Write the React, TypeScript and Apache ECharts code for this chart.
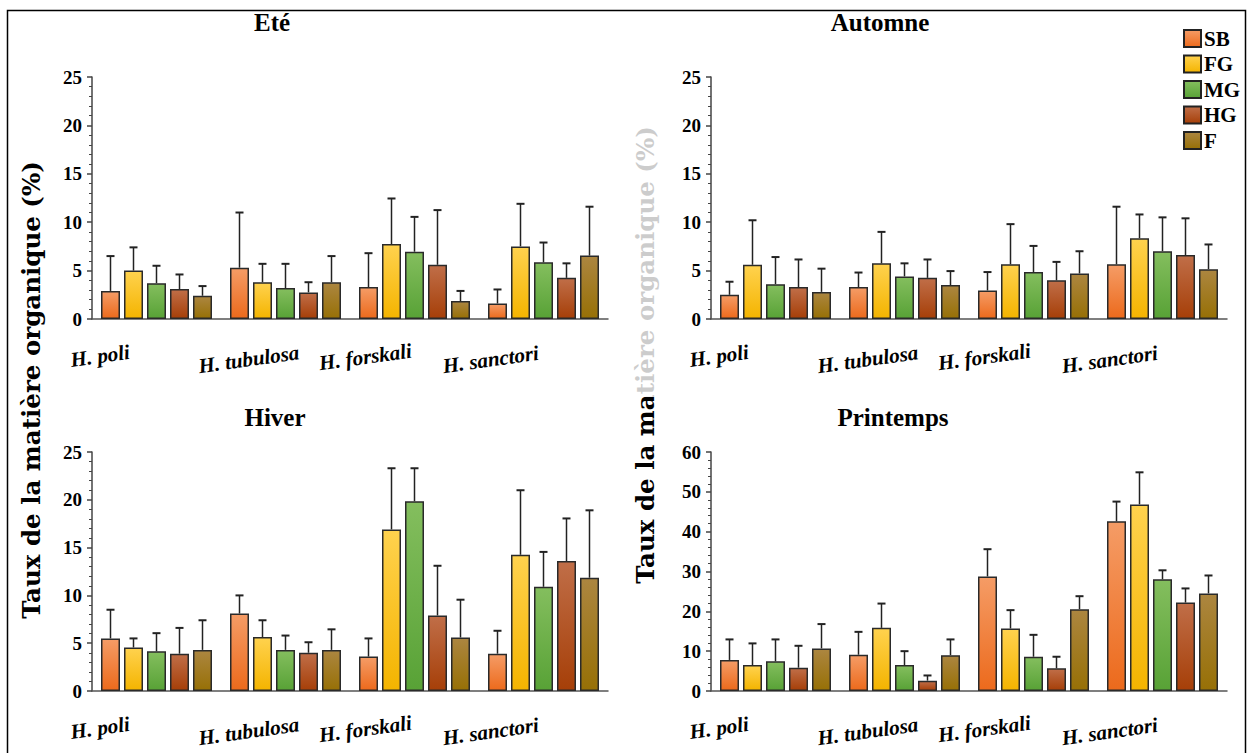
import React, { useEffect, useRef } from "react";
import * as echarts from "echarts";

const categories = ["H. poli", "H. tubulosa", "H. forskali", "H. sanctori"];
const seriesNames = ["SB", "FG", "MG", "HG", "F"];
const seasonTitles = ["Eté", "Automne", "Hiver", "Printemps"];
const yTitle = "Taux de la matière organique (%)";

// means[series][category]
const eteMeans = [
  [2.9, 5.3, 3.3, 1.6],
  [5.0, 3.8, 7.75, 7.5],
  [3.7, 3.2, 6.95, 5.85],
  [3.1, 2.75, 5.6, 4.25],
  [2.4, 3.8, 1.85, 6.55],
];
const eteSd = [
  [3.6, 5.7, 3.5, 1.45],
  [2.4, 1.9, 4.7, 4.4],
  [1.8, 2.5, 3.6, 2.05],
  [1.5, 1.05, 5.65, 1.5],
  [1.0, 2.7, 1.05, 5.05],
];
const automneMeans = [
  [2.5, 3.3, 2.95, 5.65],
  [5.6, 5.75, 5.65, 8.35],
  [3.6, 4.4, 4.85, 7.0],
  [3.3, 4.25, 4.0, 6.6],
  [2.8, 3.5, 4.7, 5.15],
];
const automneSd = [
  [1.35, 1.5, 1.9, 5.95],
  [4.6, 3.25, 4.15, 2.45],
  [2.8, 1.35, 2.7, 3.5],
  [2.85, 1.9, 1.9, 3.8],
  [2.4, 1.45, 2.3, 2.55],
];
const hiverMeans = [
  [5.5, 8.1, 3.6, 3.9],
  [4.55, 5.65, 16.9, 14.25],
  [4.15, 4.3, 19.85, 10.9],
  [3.9, 4.0, 7.9, 13.6],
  [4.3, 4.3, 5.6, 11.85],
];
const hiverSd = [
  [3.0, 1.9, 1.9, 2.4],
  [0.95, 1.75, 6.4, 6.75],
  [1.9, 1.5, 3.45, 3.65],
  [2.7, 1.1, 5.2, 4.45],
  [3.1, 2.15, 3.95, 7.05],
];
const printempsMeans = [
  [7.8, 9.1, 28.75, 42.6],
  [6.5, 15.85, 15.7, 46.85],
  [7.45, 6.5, 8.6, 28.05],
  [5.85, 2.6, 5.7, 22.2],
  [10.7, 9.0, 20.55, 24.5],
];
const printempsSd = [
  [5.15, 5.75, 6.85, 4.95],
  [5.45, 6.1, 4.6, 8.05],
  [5.5, 3.5, 5.5, 2.25],
  [5.5, 1.3, 2.9, 3.55],
  [6.1, 3.95, 3.25, 4.5],
];
const yMax = [25, 25, 25, 60];
const yInterval = [5, 5, 5, 10];

const FONT = "Liberation Serif, Times New Roman, serif";
const FONT_YT = "DejaVu Serif, serif";
const colorStops = [
  ["#F59C66", "#EC6A1C"],
  ["#FFD24E", "#F4B400"],
  ["#84BE5E", "#58A236"],
  ["#C06E48", "#A63F08"],
  ["#AC8640", "#977006"],
];
const BAR_W = 19;
const BAR_GAP = 4;

const grids = [
  { left: 92, top: 77, width: 516, height: 242 },
  { left: 711, top: 77, width: 516, height: 242 },
  { left: 92, top: 452, width: 516, height: 239 },
  { left: 711, top: 452, width: 516, height: 239 },
];
const titlePos = [
  [272, 22],
  [880, 22],
  [275, 417],
  [893, 417],
];
// per-category label padding [top, right, bottom, left] to mimic the staggered, shifted labels
const labelPad = [
  [0, 114, 0, 0],
  [12, 76, 0, 0],
  [4, 100, 0, 0],
  [8, 108, 0, 0],
];

export default function App() {
  const ref = useRef<HTMLDivElement>(null);
  useEffect(() => {
    if (!ref.current) return;
    const chart = echarts.init(ref.current, null, { renderer: "svg" });
    const allMeans = [eteMeans, automneMeans, hiverMeans, printempsMeans];
    const allSd = [eteSd, automneSd, hiverSd, printempsSd];

    const rich: any = {};
    labelPad.forEach((p, i) => {
      rich["l" + i] = {
        fontFamily: FONT,
        fontStyle: "italic",
        fontWeight: "bold",
        fontSize: 21,
        color: "#000",
        padding: p,
      };
    });

    const xAxis: any[] = [];
    const yAxis: any[] = [];
    const series: any[] = [];
    grids.forEach((g, gi) => {
      xAxis.push({
        type: "category",
        gridIndex: gi,
        data: categories,
        axisLine: { show: true, lineStyle: { color: "#555", width: 1.5 } },
        axisTick: { show: false },
        axisLabel: {
          interval: 0,
          rotate: 8,
          margin: 29,
          align: "center",
          verticalAlign: "middle",
          fontFamily: FONT,
          formatter: (v: string, idx: number) => `{l${idx}|${v}}`,
          rich,
        },
      });
      yAxis.push({
        type: "value",
        gridIndex: gi,
        min: 0,
        max: yMax[gi],
        interval: yInterval[gi],
        axisLine: { show: true, lineStyle: { color: "#444", width: 1.5 } },
        axisTick: { show: true, length: 5, lineStyle: { color: "#444", width: 1.5 } },
        minorTick: { show: true, splitNumber: 5, length: 3, lineStyle: { color: "#444", width: 1 } },
        splitLine: { show: false },
        axisLabel: {
          margin: 10,
          fontFamily: FONT,
          fontWeight: "bold",
          fontSize: 19,
          color: "#000",
        },
      });
      const means = allMeans[gi];
      const sds = allSd[gi];
      seriesNames.forEach((name, si) => {
        series.push({
          type: "bar",
          name,
          xAxisIndex: gi,
          yAxisIndex: gi,
          barWidth: BAR_W,
          barGap: (BAR_GAP / BAR_W) * 100 + "%",
          data: means[si],
          itemStyle: {
            color: new echarts.graphic.LinearGradient(0, 0, 0, 1, [
              { offset: 0, color: colorStops[si][0] },
              { offset: 1, color: colorStops[si][1] },
            ]),
            borderColor: "#2a2a2a",
            borderWidth: 1.5,
          },
        });
      });
      const errData: any[] = [];
      seriesNames.forEach((_, si) => {
        categories.forEach((_, ci) => {
          errData.push([ci, means[si][ci], sds[si][ci], si]);
        });
      });
      series.push({
        type: "custom",
        xAxisIndex: gi,
        yAxisIndex: gi,
        z: 5,
        data: errData,
        renderItem: (params: any, api: any) => {
          const ci = api.value(0);
          const m = api.value(1);
          const sd = api.value(2);
          const si = api.value(3);
          const base = api.coord([ci, m]);
          const top = api.coord([ci, m + sd]);
          const x = base[0] + (si - 2) * (BAR_W + BAR_GAP);
          return {
            type: "group",
            children: [
              {
                type: "line",
                shape: { x1: x, y1: base[1], x2: x, y2: top[1] },
                style: { stroke: "#222", lineWidth: 1.5 },
              },
              {
                type: "line",
                shape: { x1: x - 4, y1: top[1], x2: x + 4, y2: top[1] },
                style: { stroke: "#222", lineWidth: 2 },
              },
            ],
          };
        },
      });
    });

    const titleStyle = {
      text: yTitle,
      fontFamily: FONT_YT,
      fontWeight: "bold",
      fontSize: 24.5,
      fill: "#000",
      align: "center",
      verticalAlign: "middle",
    };
    const graphic: any[] = [
      {
        type: "rect",
        shape: { x: 7.5, y: 10.5, width: 1238, height: 800 },
        style: { fill: "none", stroke: "#000", lineWidth: 1.5 },
        silent: true,
      },
      { type: "text", x: 31, y: 390, rotation: Math.PI / 2, style: { ...titleStyle } },
      { type: "text", x: 645, y: 355, rotation: Math.PI / 2, style: { ...titleStyle } },
      {
        type: "rect",
        shape: { x: 626, y: 12, width: 38, height: 385 },
        style: { fill: "rgba(255,255,255,0.8)" },
        silent: true,
      },
    ];
    seasonTitles.forEach((t, i) => {
      graphic.push({
        type: "text",
        x: titlePos[i][0],
        y: titlePos[i][1],
        style: {
          text: t,
          fontFamily: FONT,
          fontWeight: "bold",
          fontSize: 25,
          fill: "#000",
          align: "center",
          verticalAlign: "middle",
        },
      });
    });

    chart.setOption({
      animation: false,
      backgroundColor: "#fff",
      textStyle: { fontFamily: FONT },
      grid: grids,
      xAxis,
      yAxis,
      series,
      legend: {
        data: seriesNames,
        orient: "vertical",
        left: 1178,
        top: 23,
        itemWidth: 17,
        itemHeight: 17,
        itemGap: 4.5,
        icon: "rect",
        itemStyle: { borderColor: "#222", borderWidth: 2 },
        textStyle: { fontFamily: FONT, fontWeight: "bold", fontSize: 21, color: "#000", padding: [0, 0, 0, -2] },
      },
      graphic,
    });
    return () => chart.dispose();
  }, []);
  return (
    <div
      ref={ref}
      style={{ position: "absolute", left: 0, top: 0, width: 1253, height: 753, background: "#fff" }}
    />
  );
}
